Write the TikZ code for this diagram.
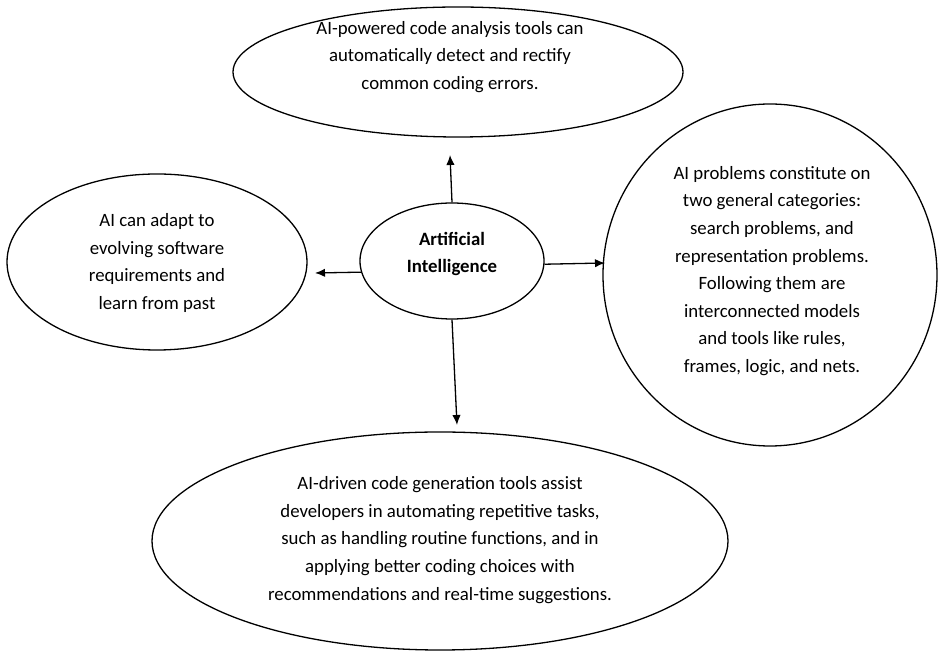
\documentclass[tikz,border=0pt]{standalone}
\usepackage{fontspec}
\setmainfont{Carlito}
\usetikzlibrary{shapes.geometric,arrows.meta}
\tikzset{
	bubble/.style={ellipse, draw, line width=0.65pt, inner sep=0pt},
	blurb/.style={align=center, inner sep=0pt, font=\fontsize{9.4}{13.8}\selectfont},
	link/.style={-{Latex[length=5pt,width=4.2pt]}, line width=0.65pt}
}
\begin{document}
\begin{tikzpicture}[x=0.5pt,y=-0.5pt]
		\useasboundingbox (0,0) rectangle (939,651);
		
		% THE BUBBLES
		\node[bubble, minimum width=225pt, minimum height=65pt] (analysis) at (458,72) {};
		\node[bubble, minimum width=150pt, minimum height=88pt] (adapt) at (157,262) {};
		\node[bubble, minimum width=92pt, minimum height=58pt] (ai) at (452,261) {};
		\node[bubble, minimum width=167pt, minimum height=171pt] (probs) at (770,275) {};
		\node[bubble, minimum width=288pt, minimum height=109pt] (codegen) at (440,541) {};
		%
		% THE TEXTS
		\node[blurb] (analysisText) at (450,57)
		{AI-powered code analysis tools can\\automatically detect and rectify\\common coding errors.};
		\node[blurb] (adaptText) at (157,263)
		{AI can adapt to\\evolving software\\requirements and\\learn from past};
		\node[blurb, font=\fontsize{9.4}{13.8}\selectfont\bfseries] (aiText) at (452,254)
		{Artificial\\Intelligence};
		\node[blurb] (probsText) at (772,271)
		{AI problems constitute on\\two general categories:\\search problems, and\\representation problems.\\Following them are\\interconnected models\\and tools like rules,\\frames, logic, and nets.};
		\node[blurb] (codegenText) at (440,540)
		{AI-driven code generation tools assist\\developers in automating repetitive tasks,\\such as handling routine functions, and in\\applying better coding choices with\\recommendations and real-time suggestions.};
		%
		% THE ARROWS
		\coordinate (upTip) at (450,155);
		\coordinate (leftTip) at (315,273);
		\coordinate (rightTip) at (605,263);
		\coordinate (downTip) at (457,425);
		\draw[link] (ai.north) -- (upTip);
		\draw[link] (ai.187) -- (leftTip);
		\draw[link] (ai.358) -- (rightTip);
		\draw[link] (ai.south) -- (downTip);
	\end{tikzpicture}
\end{document}
